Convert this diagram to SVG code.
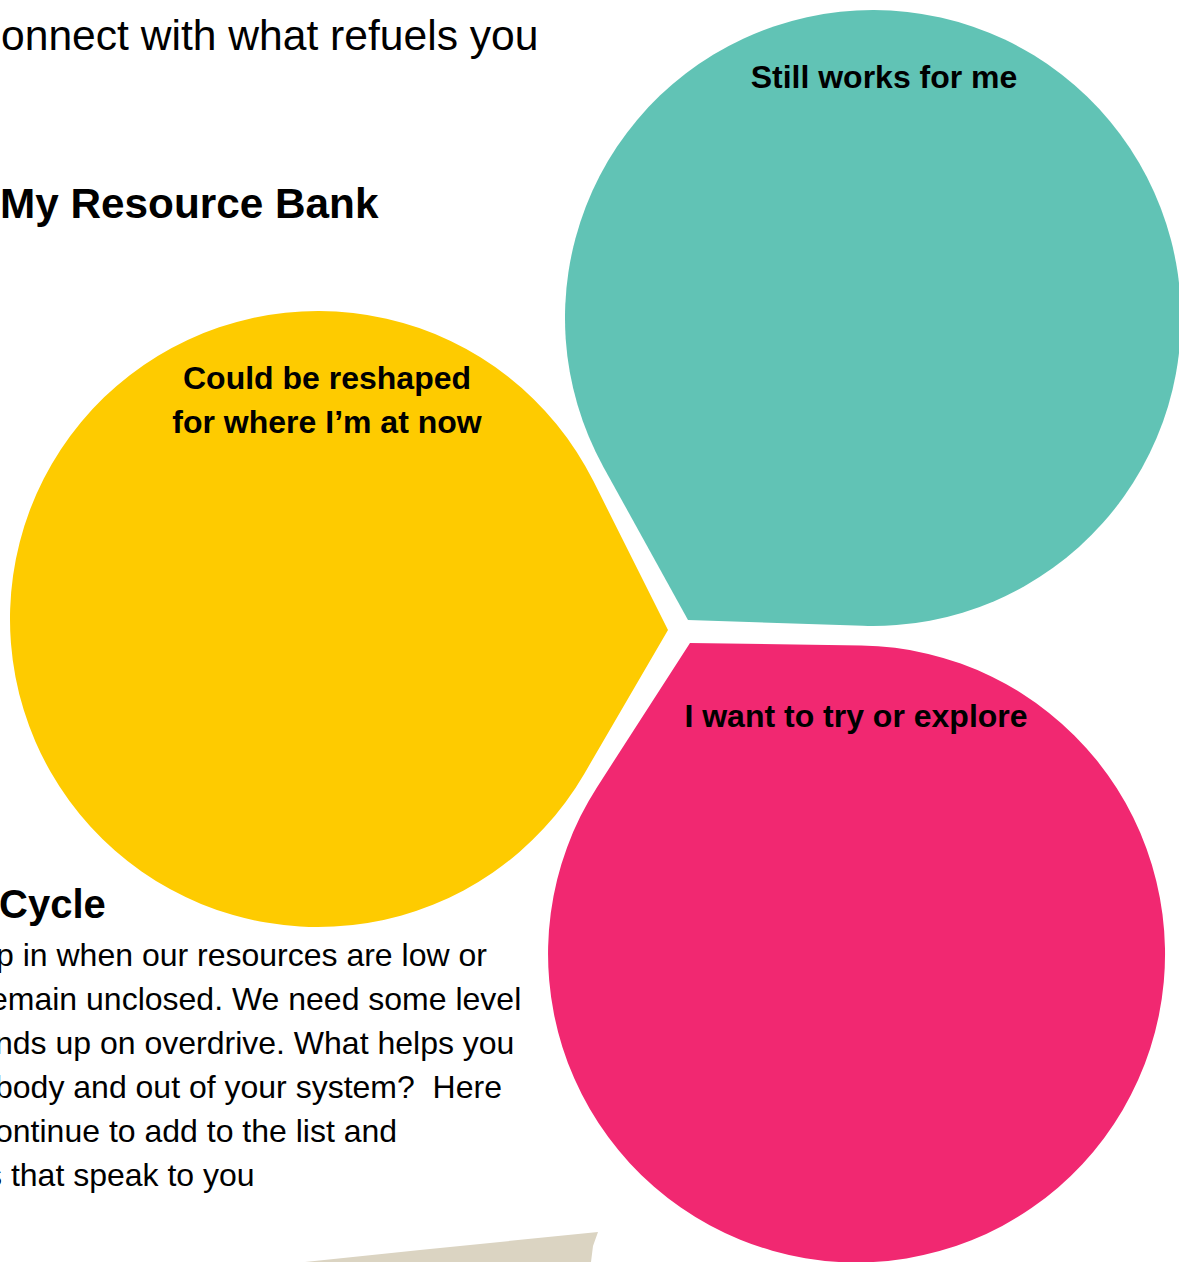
<svg xmlns="http://www.w3.org/2000/svg" width="1179" height="1262" viewBox="0 0 1179 1262">
<style>
.t{font-family:"Liberation Sans",Arial,sans-serif;fill:#000}
.h{font-size:42.6px}
.hb{font-size:42.3px;font-weight:bold}
.p{font-size:32px;white-space:pre}
.lbl{font-size:32px;font-weight:bold;text-anchor:middle}
</style>
<rect width="1179" height="1262" fill="#fff"/>
<text class="t h" x="1" y="50">onnect with what refuels you</text>
<text class="t hb" x="0" y="218">My Resource Bank</text>
<g id="yellow">
<path d="M668 630 L593.4 481.1 A308 308 0 1 0 584.2 773.9 Z" fill="#FECB00"/>
<text class="t lbl" x="327" y="389">Could be reshaped</text>
<text class="t lbl" x="327" y="433">for where I’m at now</text>
</g>
<g id="teal">
<path d="M688 620 L603.4 466.9 A308 308 0 1 1 862.8 625.8 Z" fill="#61C3B5"/>
<text class="t lbl" x="884" y="88">Still works for me</text>
</g>
<g id="pink">
<path d="M690 643 L861.2 645.5 A308.5 308.5 0 1 1 597.2 786.9 Z" fill="#F12871"/>
<text class="t lbl" x="856" y="727">I want to try or explore</text>
</g>
<text class="t hb" x="-1" y="918" style="font-size:40px">Cycle</text>
<g class="t p">
<text x="-4" y="966">p in when our resources are low or</text>
<text x="-10" y="1010">emain unclosed. We need some level</text>
<text x="-5" y="1054">nds up on overdrive. What helps you</text>
<text x="-5" y="1098" xml:space="preserve">body and out of your system?  Here</text>
<text x="-5" y="1142">ontinue to add to the list and</text>
<text x="-14" y="1186">s that speak to you</text>
</g>
<path d="M305 1262 L420 1250 L598 1232 L593 1246 L591 1262 Z" fill="#DBD4C2"/>
</svg>
